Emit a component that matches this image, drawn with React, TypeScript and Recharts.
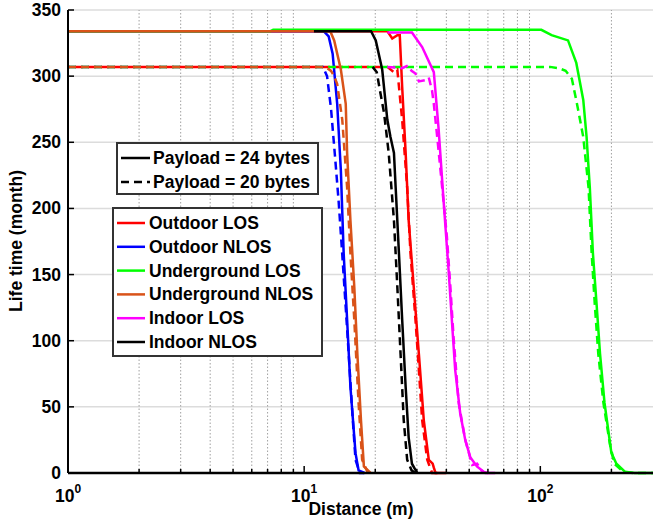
import { CartesianGrid, Line, LineChart, ReferenceLine, XAxis, YAxis } from 'recharts'

const FONT = '"Liberation Sans", Arial, Helvetica, sans-serif'

const majorTicks = [1, 10, 100]
const minorTicks = [2, 3, 4, 5, 6, 7, 8, 9, 20, 30, 40, 50, 60, 70, 80, 90, 200]
const yTicks = [0, 50, 100, 150, 200, 250, 300, 350]

// [distance (m), life time (month)]
// solid = payload 24 bytes, dashed = payload 20 bytes
const outdoorLos24 = [[1, 334], [22.5, 334], [23.6, 328.5], [24.8, 331], [25.4, 331], [26.0, 292], [26.9, 242], [27.7, 191], [29.1, 141], [30.6, 90], [32.1, 40], [33.7, 10], [35.0, 7], [35.4, 4], [36.0, 0], [40, 0]]
const outdoorLos20 = [[1, 307], [22.5, 307], [24.0, 303], [24.8, 305], [25.2, 292], [26.0, 267], [27.3, 216], [28.2, 166], [29.6, 116], [30.6, 78], [31.6, 40], [33.2, 10], [34.8, 0], [38, 0]]

const outdoorNlos24 = [[1, 334], [12.1, 334], [12.7, 330], [13.2, 317], [13.8, 279], [14.3, 229], [14.7, 166], [15.2, 116], [15.7, 65], [16.5, 15], [17.0, 2], [18.0, 0]]
const outdoorNlos20 = [[1, 307], [12.0, 307], [12.5, 300], [13.0, 275], [13.5, 240], [14.0, 205], [14.5, 165], [15.0, 125], [15.5, 85], [16.0, 45], [16.5, 10], [17.2, 0], [18, 0]]

const undergroundLos24 = [[1, 334], [7.2, 334], [7.4, 335], [101, 335], [111.6, 331], [131, 327], [142, 310], [152, 282], [157, 254], [162, 216], [167, 166], [173, 128], [179, 90], [187, 53], [200, 15], [210, 7], [228, 1], [251, 0], [300, 0]]
const undergroundLos20 = [[1, 307], [110, 307], [120, 306], [128, 304], [136, 298], [143, 279], [152, 254], [160, 216], [165, 166], [170, 128], [176, 90], [185, 53], [197, 22], [206, 7], [224, 1], [248, 0], [300, 0]]

const undergroundNlos24 = [[1, 334], [12.9, 334], [13.4, 327], [14.3, 305], [15.0, 279], [15.2, 242], [15.7, 191], [16.3, 141], [16.8, 90], [17.4, 40], [17.9, 5], [19.1, 0]]
const undergroundNlos20 = [[1, 307], [12.3, 307], [13.0, 304], [13.4, 300], [13.8, 294], [14.5, 267], [15.2, 216], [15.7, 166], [16.3, 116], [17.0, 53], [17.6, 10], [18.5, 1], [19, 0]]

const indoorLos24 = [[22.5, 333], [28.6, 333], [31.6, 322], [35.4, 303], [37.1, 260], [39.0, 204], [40.9, 153], [42.2, 116], [43.6, 78], [45.8, 45], [48.1, 25], [50.5, 12], [53.9, 5], [58.5, 0], [64.4, 0]]
const indoorLos20 = [[22.5, 307], [26.0, 306], [27.5, 308], [28.5, 304], [29.6, 302], [30.6, 296], [32.6, 297], [33.7, 299], [34.8, 289], [35.4, 279], [36.6, 254], [38.4, 216], [40.2, 179], [41.6, 141], [42.9, 103], [45.1, 53], [48.1, 25], [51.5, 6], [54.0, 7], [56.7, 1], [60.2, 0]]

const indoorNlos24 = [[11, 334], [19.2, 334], [20.1, 327], [21.4, 305], [22.5, 267], [23.2, 254], [24.0, 242], [24.4, 216], [25.2, 166], [26.0, 116], [26.9, 65], [27.7, 27], [28.6, 7], [30.1, 0]]
const indoorNlos20 = [[19.5, 307], [20.3, 303], [20.8, 292], [21.8, 272], [22.8, 242], [24.0, 191], [24.8, 141], [25.6, 90], [26.4, 40], [27.3, 10], [28.5, 2], [29.5, 0]]

const series = [
  { name: 'Outdoor LOS', color: '#ff0000', solid: outdoorLos24, dashed: outdoorLos20, offset: 6 },
  { name: 'Outdoor NLOS', color: '#0000ff', solid: outdoorNlos24, dashed: outdoorNlos20, offset: 0 },
  { name: 'Underground LOS', color: '#00ff00', solid: undergroundLos24, dashed: undergroundLos20, offset: 0 },
  { name: 'Underground NLOS', color: '#d95319', solid: undergroundNlos24, dashed: undergroundNlos20, offset: 0 },
  { name: 'Indoor LOS', color: '#ff00ff', solid: indoorLos24, dashed: indoorLos20, offset: 0 },
  { name: 'Indoor NLOS', color: '#000000', solid: indoorNlos24, dashed: indoorNlos20, offset: 0 },
]

const payloadLabels = ['Payload = 24 bytes', 'Payload = 20 bytes']

const toPoints = (pts: number[][]) => pts.map(([d, t]) => ({ d, t }))

const DASH = '8 5'

function BottomTick({ x, y, payload }: any) {
  const major = majorTicks.includes(payload.value)
  return (
    <g>
      <line x1={x} x2={x} y1={y} y2={y - (major ? 7 : 4)} stroke="#000" strokeWidth={1.5} />
      {major && (
        <text x={x} y={y + 29} textAnchor="middle" fontFamily={FONT} fontWeight="bold" fontSize={17.5} fill="#000">
          <tspan>10</tspan>
          <tspan dy={-9} fontSize={12}>{Math.round(Math.log10(payload.value))}</tspan>
        </text>
      )}
    </g>
  )
}

function TopTick({ x, y, payload }: any) {
  const major = majorTicks.includes(payload.value)
  return <line x1={x} x2={x} y1={y} y2={y + (major ? 7 : 4)} stroke="#000" strokeWidth={1.5} />
}

function LeftTick({ x, y, payload }: any) {
  return (
    <g>
      <line x1={x} x2={x + 6} y1={y} y2={y} stroke="#000" strokeWidth={1.5} />
      <text x={x - 7} y={y + 6} textAnchor="end" fontFamily={FONT} fontWeight="bold" fontSize={17.5} fill="#000">
        {payload.value}
      </text>
    </g>
  )
}

function RightTick({ x, y }: any) {
  return <line x1={x} x2={x - 6} y1={y} y2={y} stroke="#000" strokeWidth={1.5} />
}

export default function App() {
  return (
    <div style={{ position: 'absolute', left: 0, top: 0, width: 654, height: 520, background: '#fff' }}>
      <LineChart width={654} height={520} data={[]} margin={{ top: 10, right: 1, bottom: 0, left: 0 }}>
        <CartesianGrid
          stroke="#dcdcdc"
          strokeWidth={1.5}
          verticalCoordinatesGenerator={(p: any) => {
            const s = p?.xAxis?.scale
            return typeof s === 'function' ? majorTicks.map((v) => s(v)) : []
          }}
        />
        {minorTicks.map((v) => (
          <ReferenceLine key={'minor-' + v} x={v} stroke="#a0a0a0" strokeWidth={1} strokeDasharray="1.5 2" />
        ))}
        <XAxis
          dataKey="d"
          type="number"
          scale="log"
          domain={[1, 300]}
          allowDataOverflow
          ticks={[...majorTicks, ...minorTicks]}
          interval={0}
          height={47}
          tickSize={0}
          tickMargin={0}
          tickLine={false}
          tick={<BottomTick />}
          axisLine={{ stroke: '#000', strokeWidth: 2.5 }}
        />
        <XAxis
          xAxisId="top"
          orientation="top"
          dataKey="d"
          type="number"
          scale="log"
          domain={[1, 300]}
          allowDataOverflow
          ticks={[...majorTicks, ...minorTicks]}
          interval={0}
          height={0}
          tickSize={0}
          tickMargin={0}
          tickLine={false}
          tick={<TopTick />}
          axisLine={{ stroke: '#000', strokeWidth: 2 }}
        />
        <YAxis
          type="number"
          domain={[0, 350]}
          ticks={yTicks}
          interval={0}
          width={68}
          tickSize={0}
          tickMargin={0}
          tickLine={false}
          tick={<LeftTick />}
          axisLine={{ stroke: '#000', strokeWidth: 2 }}
        />
        <YAxis
          yAxisId="right"
          orientation="right"
          type="number"
          domain={[0, 350]}
          ticks={yTicks}
          interval={0}
          width={0}
          tickSize={0}
          tickMargin={0}
          tickLine={false}
          tick={<RightTick />}
          axisLine={{ stroke: '#000', strokeWidth: 2 }}
        />
        {series.flatMap((s) => [
          <Line
            key={s.name + '-24'}
            data={toPoints(s.solid)}
            dataKey="t"
            type="linear"
            stroke={s.color}
            strokeWidth={2.5}
            dot={false}
            activeDot={false}
            isAnimationActive={false}
          />,
          <Line
            key={s.name + '-20'}
            data={toPoints(s.dashed)}
            dataKey="t"
            type="linear"
            stroke={s.color}
            strokeWidth={2.5}
            strokeDasharray={DASH}
            strokeDashoffset={s.offset}
            dot={false}
            activeDot={false}
            isAnimationActive={false}
          />,
        ])}
      </LineChart>

      <svg width={654} height={520} style={{ position: 'absolute', left: 0, top: 0, pointerEvents: 'none' }}>
        <text x={361} y={515} textAnchor="middle" fontFamily={FONT} fontWeight="bold" fontSize={17.5} fill="#000">
          Distance (m)
        </text>
        <text
          transform="translate(22 241) rotate(-90)"
          textAnchor="middle"
          fontFamily={FONT}
          fontWeight="bold"
          fontSize={17.5}
          fill="#000"
        >
          Life time (month)
        </text>

        {/* payload legend */}
        <rect x={117} y={143} width={201} height={51} fill="#fff" stroke="#333" strokeWidth={2} />
        {payloadLabels.map((label, i) => (
          <g key={label}>
            <line
              x1={121}
              x2={150}
              y1={158 + i * 24}
              y2={158 + i * 24}
              stroke="#000"
              strokeWidth={2.5}
              strokeDasharray={i === 1 ? DASH : undefined}
            />
            <text x={153} y={164 + i * 24} fontFamily={FONT} fontWeight="bold" fontSize={17.5} fill="#000">
              {label}
            </text>
          </g>
        ))}

        {/* environment legend */}
        <rect x={113} y={208} width={209} height={148} fill="#fff" stroke="#333" strokeWidth={2} />
        {series.map((s, i) => (
          <g key={s.name}>
            <line x1={117} x2={145} y1={223 + i * 23.8} y2={223 + i * 23.8} stroke={s.color} strokeWidth={2.5} />
            <text x={149} y={229 + i * 23.8} fontFamily={FONT} fontWeight="bold" fontSize={17.5} fill="#000">
              {s.name}
            </text>
          </g>
        ))}
      </svg>
    </div>
  )
}
